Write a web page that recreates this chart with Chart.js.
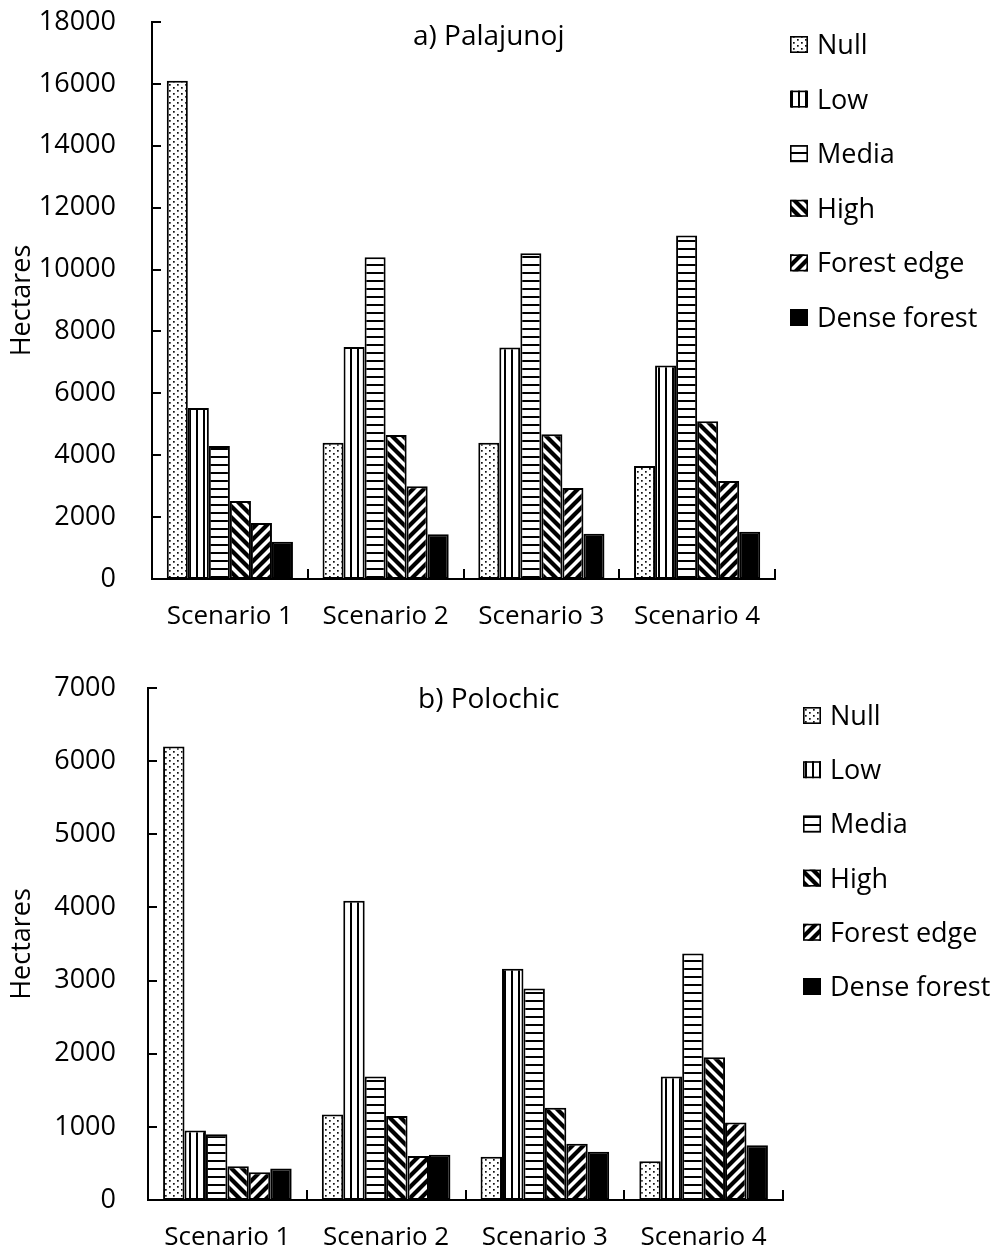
<!DOCTYPE html>
<html>
<head>
<meta charset="utf-8">
<script src="https://cdn.jsdelivr.net/npm/chart.js@4.4.1/dist/chart.umd.min.js"></script>
<style>
  html, body { margin: 0; padding: 0; background: #fff; }
  #wrap { position: relative; width: 998px; height: 1252px; }
  canvas { position: absolute; left: 0; }
  #cA { top: 0; }
  #cB { top: 640px; }
</style>
</head>
<body>
<div id="wrap">
  <canvas id="cA" width="998" height="640"></canvas>
  <canvas id="cB" width="998" height="612"></canvas>
</div>
<script>
// ---------------- DATA ----------------
const categories = ['Scenario 1', 'Scenario 2', 'Scenario 3', 'Scenario 4'];
const seriesNames = ['Null', 'Low', 'Media', 'High', 'Forest edge', 'Dense forest'];

// a) Palajunoj (hectares)
const palNull   = [16100, 4400, 4400, 3650];
const palLow    = [5530, 7500, 7480, 6900];
const palMedia  = [4300, 10400, 10530, 11100];
const palHigh   = [2520, 4650, 4680, 5100];
const palEdge   = [1810, 3000, 2940, 3170];
const palDense  = [1200, 1450, 1460, 1530];

// b) Polochic (hectares)
const polNull   = [6200, 1170, 590, 530];
const polLow    = [950, 4090, 3160, 1690];
const polMedia  = [900, 1690, 2890, 3370];
const polHigh   = [460, 1150, 1260, 1950];
const polEdge   = [380, 600, 770, 1060];
const polDense  = [430, 620, 660, 750];

const titleA = 'a) Palajunoj';
const titleB = 'b) Polochic';
const yTitle = 'Hectares';
const yMaxA = 18000, yStepA = 2000;
const yMaxB = 7000, yStepB = 1000;

// ---------------- PATTERNS ----------------
function makeTile(w, h, draw) {
  const c = document.createElement('canvas');
  c.width = w; c.height = h;
  const g = c.getContext('2d');
  g.fillStyle = '#fff'; g.fillRect(0, 0, w, h);
  draw(g, w, h);
  return document.createElement('canvas').getContext('2d').createPattern(c, 'repeat');
}
const patNull = makeTile(8, 6, (g) => {
  g.fillStyle = '#111';
  g.fillRect(1, 0, 1.7, 1.7);
  g.fillRect(5, 3, 1.7, 1.7);
});
const patLow = makeTile(7, 4, (g) => {
  g.fillStyle = '#000';
  g.fillRect(0, 0, 2, 4);
});
const patMedia = makeTile(4, 8, (g) => {
  g.fillStyle = '#000';
  g.fillRect(0, 0, 4, 2);
});
const patHigh = makeTile(11, 11, (g, w) => {
  g.strokeStyle = '#000'; g.lineWidth = 4.2; g.lineCap = 'square';
  for (let x0 = -w; x0 <= w; x0 += w) {
    g.beginPath(); g.moveTo(x0, 0); g.lineTo(x0 + w, w); g.stroke();
  }
});
const patEdge = makeTile(11, 11, (g, w) => {
  g.strokeStyle = '#000'; g.lineWidth = 4.2; g.lineCap = 'square';
  for (let x0 = 0; x0 <= 2 * w; x0 += w) {
    g.beginPath(); g.moveTo(x0, 0); g.lineTo(x0 - w, w); g.stroke();
  }
});
const fills = [patNull, patLow, patMedia, patHigh, patEdge, '#000'];

// ---------------- PLUGINS ----------------
const insideTicks = {
  id: 'insideTicks',
  afterDatasetsDraw(chart) {
    const { ctx, scales: { x, y }, chartArea } = chart;
    ctx.save();
    ctx.strokeStyle = '#000';
    ctx.lineWidth = 2;
    y.ticks.forEach((t, i) => {
      const py = Math.round(y.getPixelForTick(i));
      ctx.beginPath();
      ctx.moveTo(chartArea.left, py);
      ctx.lineTo(chartArea.left + 9, py);
      ctx.stroke();
    });
    const n = x.ticks.length;
    for (let i = 0; i <= n; i++) {
      let px;
      if (i === 0) px = x.left;
      else if (i === n) px = x.right;
      else px = (x.getPixelForTick(i - 1) + x.getPixelForTick(i)) / 2;
      px = Math.round(px);
      ctx.beginPath();
      ctx.moveTo(px, chartArea.bottom);
      ctx.lineTo(px, chartArea.bottom - 10);
      ctx.stroke();
    }
    ctx.restore();
  }
};

const sideLegend = {
  id: 'sideLegend',
  afterDraw(chart, args, opts) {
    const { ctx } = chart;
    ctx.save();
    ctx.font = '27px "Open Sans"';
    ctx.textBaseline = 'alphabetic';
    ctx.textAlign = 'left';
    chart.data.datasets.forEach((ds, i) => {
      const bx = opts.x, by = opts.y + i * opts.gap;
      ctx.fillStyle = ds.backgroundColor;
      ctx.fillRect(bx, by, 18, 17);
      ctx.strokeStyle = '#000';
      ctx.lineWidth = 1.6;
      ctx.strokeRect(bx + 0.8, by + 0.8, 16.4, 15.4);
      ctx.fillStyle = '#000';
      ctx.fillText(ds.label, bx + 27, by + 18);
    });
    ctx.restore();
  }
};

const innerTitle = {
  id: 'innerTitle',
  afterDraw(chart, args, opts) {
    const { ctx } = chart;
    ctx.save();
    ctx.font = '28px "Open Sans"';
    ctx.fillStyle = '#000';
    ctx.textAlign = 'left';
    ctx.textBaseline = 'alphabetic';
    ctx.fillText(opts.text, opts.x, opts.y);
    ctx.restore();
  }
};

Chart.defaults.font.family = '"Open Sans", sans-serif';
Chart.defaults.color = '#000';

function buildChart(canvasId, values, cfg) {
  const datasets = seriesNames.map((name, i) => ({
    label: name,
    data: values[i],
    backgroundColor: fills[i],
    borderColor: '#000',
    borderWidth: 2,
    borderSkipped: false,
    categoryPercentage: 0.81,
    barPercentage: 1.0
  }));
  return new Chart(document.getElementById(canvasId), {
    type: 'bar',
    data: { labels: categories, datasets },
    options: {
      responsive: false,
      animation: false,
      layout: { padding: { top: cfg.top, right: cfg.right, left: 0, bottom: 0 } },
      plugins: {
        legend: { display: false },
        tooltip: { enabled: false },
        sideLegend: cfg.legend,
        innerTitle: cfg.title
      },
      scales: {
        x: {
          grid: { display: false, drawTicks: false },
          border: { display: true, color: '#000', width: 2 },
          ticks: { font: { size: 26 }, color: '#000', padding: cfg.xPad, maxRotation: 0 },
          afterFit(s) { s.height = cfg.xHeight; s.paddingLeft = 0; s.paddingRight = 0; }
        },
        y: {
          min: 0, max: cfg.yMax,
          grid: { display: false, drawTicks: false },
          border: { display: true, color: '#000', width: 2 },
          ticks: {
            stepSize: cfg.yStep, font: { size: 27 }, color: '#000', padding: cfg.yPad,
            callback: (v) => String(v)
          },
          title: { display: true, text: yTitle, font: { size: 27 }, color: '#000', padding: { top: 6, bottom: 0 } },
          afterFit(s) { s.width = cfg.yWidth; s.paddingTop = 0; s.paddingBottom = 0; }
        }
      }
    },
    plugins: [insideTicks, sideLegend, innerTitle]
  });
}

buildChart('cA', [palNull, palLow, palMedia, palHigh, palEdge, palDense], {
  top: 22, right: 998 - 775, xHeight: 640 - 579, yWidth: 152, xPad: 22, yPad: 36,
  yMax: yMaxA, yStep: yStepA,
  legend: { x: 790, y: 36, gap: 54.6 },
  title: { text: titleA, x: 413, y: 45 }
});

buildChart('cB', [polNull, polLow, polMedia, polHigh, polEdge, polDense], {
  top: 48, right: 998 - 783, xHeight: 612 - 560, yWidth: 148, xPad: 22, yPad: 32,
  yMax: yMaxB, yStep: yStepB,
  legend: { x: 803, y: 67, gap: 54.2 },
  title: { text: titleB, x: 418, y: 68 }
});
</script>
</body>
</html>
